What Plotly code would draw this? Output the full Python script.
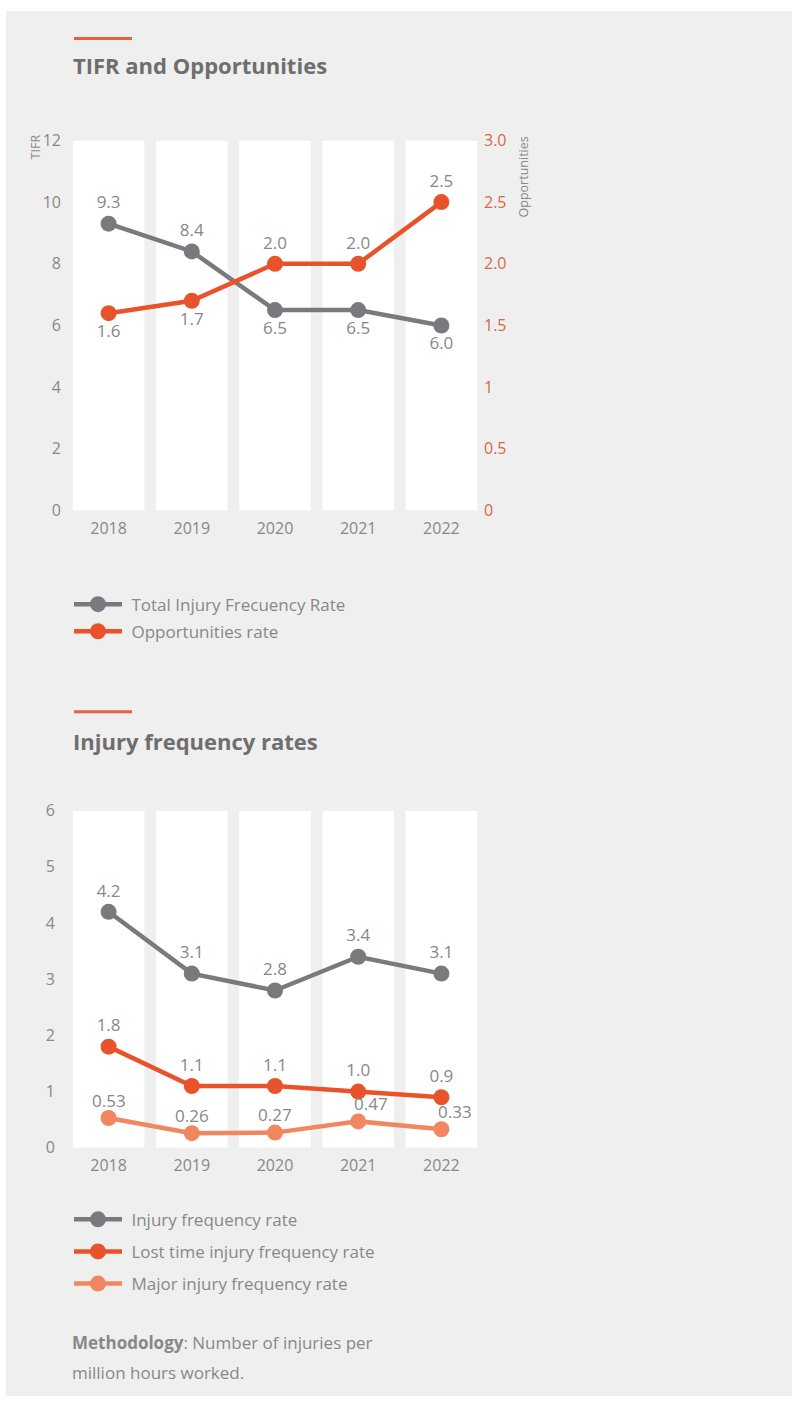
import plotly.graph_objects as go

# ---- data ----
years = ["2018", "2019", "2020", "2021", "2022"]

tifr = [9.3, 8.4, 6.5, 6.5, 6.0]
opportunities = [1.6, 1.7, 2.0, 2.0, 2.5]

injury_rate = [4.2, 3.1, 2.8, 3.4, 3.1]
lost_time_rate = [1.8, 1.1, 1.1, 1.0, 0.9]
major_rate = [0.53, 0.26, 0.27, 0.47, 0.33]

tifr_ticks = [0, 2, 4, 6, 8, 10, 12]
opp_ticks = [0, 0.5, 1, 1.5, 2, 2.5, 3]
opp_ticktext = ["0", "0.5", "1", "1.5", "2.0", "2.5", "3.0"]
ifr_ticks = [0, 1, 2, 3, 4, 5, 6]

# horizontal nudges for the major-rate labels so they clear the line above
major_label_dx = [0, 0, 0, 13, 14]

# ---- style ----
W, H = 792, 1407
TOP = 10.8          # page band above the plot div
VSCALE = 0.984      # vertical page scale
FONT = "Open Sans"
GRAY = "#797a7d"
ORANGE = "#e8532b"
LIGHT_ORANGE = "#f08761"
TEXT = "#888888"
TITLE = "#6e6e6e"
PANEL = "#efefef"
ACCENT = "#e8603c"


def py(row):
    """Row in the final page view (px from top) -> paper y."""
    return 1 - (row / VSCALE - TOP) / H


def pxx(col):
    return col / W


X_DOM = [pxx(67), pxx(483)]

fig = go.Figure()

# white column bands behind each year
fig.add_trace(go.Bar(x=years, y=[max(tifr_ticks)] * len(years), width=0.86,
                     marker=dict(color="white", line=dict(width=0)),
                     xaxis="x", yaxis="y", showlegend=False, hoverinfo="skip"))
fig.add_trace(go.Bar(x=years, y=[max(ifr_ticks)] * len(years), width=0.86,
                     marker=dict(color="white", line=dict(width=0)),
                     xaxis="x2", yaxis="y3", showlegend=False, hoverinfo="skip"))

label_font = dict(family=FONT, size=17, color=TEXT)
MARKER = 16
LW = 4.5
NB = "\u00a0"


def fmt1(v):
    return f"{v:.1f}"


# chart 1
fig.add_trace(go.Scatter(
    x=years, y=tifr, name=NB + "Total Injury Frecuency Rate", legend="legend",
    legendgroup="a",
    mode="lines+markers+text", text=[fmt1(v) for v in tifr],
    textposition=["top center", "top center", "bottom center", "bottom center", "bottom center"],
    textfont=label_font,
    line=dict(color=GRAY, width=LW), marker=dict(color=GRAY, size=MARKER),
    xaxis="x", yaxis="y", cliponaxis=False))
fig.add_trace(go.Scatter(
    x=years, y=opportunities, name=NB + "Opportunities rate", legend="legend",
    legendgroup="b",
    mode="lines+markers+text", text=[fmt1(v) for v in opportunities],
    textposition=["bottom center", "bottom center", "top center", "top center", "top center"],
    textfont=label_font,
    line=dict(color=ORANGE, width=LW), marker=dict(color=ORANGE, size=MARKER),
    xaxis="x", yaxis="y2", cliponaxis=False))

# chart 2
fig.add_trace(go.Scatter(
    x=years, y=injury_rate, name=NB + "Injury frequency rate", legend="legend2",
    legendgroup="c",
    mode="lines+markers+text", text=[fmt1(v) for v in injury_rate],
    textposition="top center", textfont=label_font,
    line=dict(color=GRAY, width=LW), marker=dict(color=GRAY, size=MARKER),
    xaxis="x2", yaxis="y3", cliponaxis=False))
fig.add_trace(go.Scatter(
    x=years, y=lost_time_rate, name=NB + "Lost time injury frequency rate", legend="legend2",
    legendgroup="d",
    mode="lines+markers+text", text=[fmt1(v) for v in lost_time_rate],
    textposition="top center", textfont=label_font,
    line=dict(color=ORANGE, width=LW), marker=dict(color=ORANGE, size=MARKER),
    xaxis="x2", yaxis="y3", cliponaxis=False))
fig.add_trace(go.Scatter(
    x=years, y=major_rate, name=NB + "Major injury frequency rate", legend="legend2",
    legendgroup="e",
    mode="lines+markers",
    line=dict(color=LIGHT_ORANGE, width=LW), marker=dict(color=LIGHT_ORANGE, size=MARKER),
    xaxis="x2", yaxis="y3", cliponaxis=False))

# value labels for the major-rate series, anchored on the data points
# (category axis: annotations take the category index)
major_labels = [
    dict(text=f"{v:.2f}", x=i, y=v, xref="x2", yref="y3", showarrow=False,
         xanchor="center", yanchor="middle", xshift=dx, yshift=18, font=label_font)
    for i, (v, dx) in enumerate(zip(major_rate, major_label_dx))
]

tick_font = dict(family=FONT, size=16, color=TEXT)
common_x = dict(type="category", range=[-0.5, 4.5], showgrid=False, zeroline=False,
                showline=False, ticks="", tickfont=tick_font, fixedrange=True,
                ticklabelstandoff=6)
common_y = dict(showgrid=False, zeroline=False, showline=False, ticks="",
                tickfont=tick_font, fixedrange=True)
legend_font = dict(family=FONT, size=17, color=TEXT)

fig.update_layout(
    width=W, height=H,
    margin=dict(l=0, r=0, t=0, b=0),
    paper_bgcolor="white",
    plot_bgcolor="rgba(0,0,0,0)",
    font=dict(family=FONT, color=TEXT),
    barmode="overlay",
    xaxis=dict(common_x, domain=X_DOM, anchor="y"),
    yaxis=dict(common_y, domain=[py(510), py(140)], range=[0, 12], tickvals=tifr_ticks,
               ticklabelstandoff=5),
    yaxis2=dict(common_y, overlaying="y", side="right", anchor="x", range=[0, 3],
                tickvals=opp_ticks, ticktext=opp_ticktext,
                tickfont=dict(family=FONT, size=16, color="#d66a45")),
    xaxis2=dict(common_x, domain=X_DOM, anchor="y3"),
    yaxis3=dict(common_y, domain=[py(1147), py(810)], range=[0, 6], tickvals=ifr_ticks,
                ticklabelstandoff=11),
    legend=dict(x=pxx(69), y=py(586), xanchor="left", yanchor="top",
                bgcolor="rgba(0,0,0,0)", font=legend_font,
                itemwidth=48, tracegroupgap=2, itemclick=False),
    legend2=dict(x=pxx(69), y=py(1201), xanchor="left", yanchor="top",
                 bgcolor="rgba(0,0,0,0)", font=legend_font,
                 itemwidth=48, tracegroupgap=7, itemclick=False),
    shapes=[
        dict(type="rect", xref="paper", yref="paper", x0=pxx(6), x1=1, y0=0, y1=1,
             fillcolor=PANEL, line=dict(width=0), layer="below"),
        dict(type="line", xref="paper", yref="paper", x0=pxx(74), x1=pxx(132),
             y0=py(38), y1=py(38), line=dict(color=ACCENT, width=3)),
        dict(type="line", xref="paper", yref="paper", x0=pxx(74), x1=pxx(132),
             y0=py(711), y1=py(711), line=dict(color=ACCENT, width=3)),
    ],
    annotations=[
        dict(text="<b>TIFR and Opportunities</b>", xref="paper", yref="paper",
             x=pxx(71), y=py(65), xanchor="left", yanchor="middle", showarrow=False,
             font=dict(family=FONT, size=22, color=TITLE)),
        dict(text="<b>Injury frequency rates</b>", xref="paper", yref="paper",
             x=pxx(71), y=py(740), xanchor="left", yanchor="middle", showarrow=False,
             font=dict(family=FONT, size=22, color=TITLE)),
        dict(text="TIFR", xref="paper", yref="paper", x=pxx(35), y=py(147),
             xanchor="center", yanchor="middle", textangle=-90, showarrow=False,
             font=dict(family=FONT, size=12.5, color=TEXT)),
        dict(text="Opportunities", xref="paper", yref="paper", x=pxx(523), y=py(177),
             xanchor="center", yanchor="middle", textangle=-90, showarrow=False,
             font=dict(family=FONT, size=12.5, color=TEXT)),
        dict(text="<b>Methodology</b>: Number of injuries per", xref="paper", yref="paper",
             x=pxx(70), y=py(1342), xanchor="left", yanchor="middle", showarrow=False,
             font=dict(family=FONT, size=17, color=TEXT)),
        dict(text="million hours worked.", xref="paper", yref="paper",
             x=pxx(70), y=py(1372), xanchor="left", yanchor="middle", showarrow=False,
             font=dict(family=FONT, size=17, color=TEXT)),
    ] + major_labels,
)

fig.write_html("out.html")
